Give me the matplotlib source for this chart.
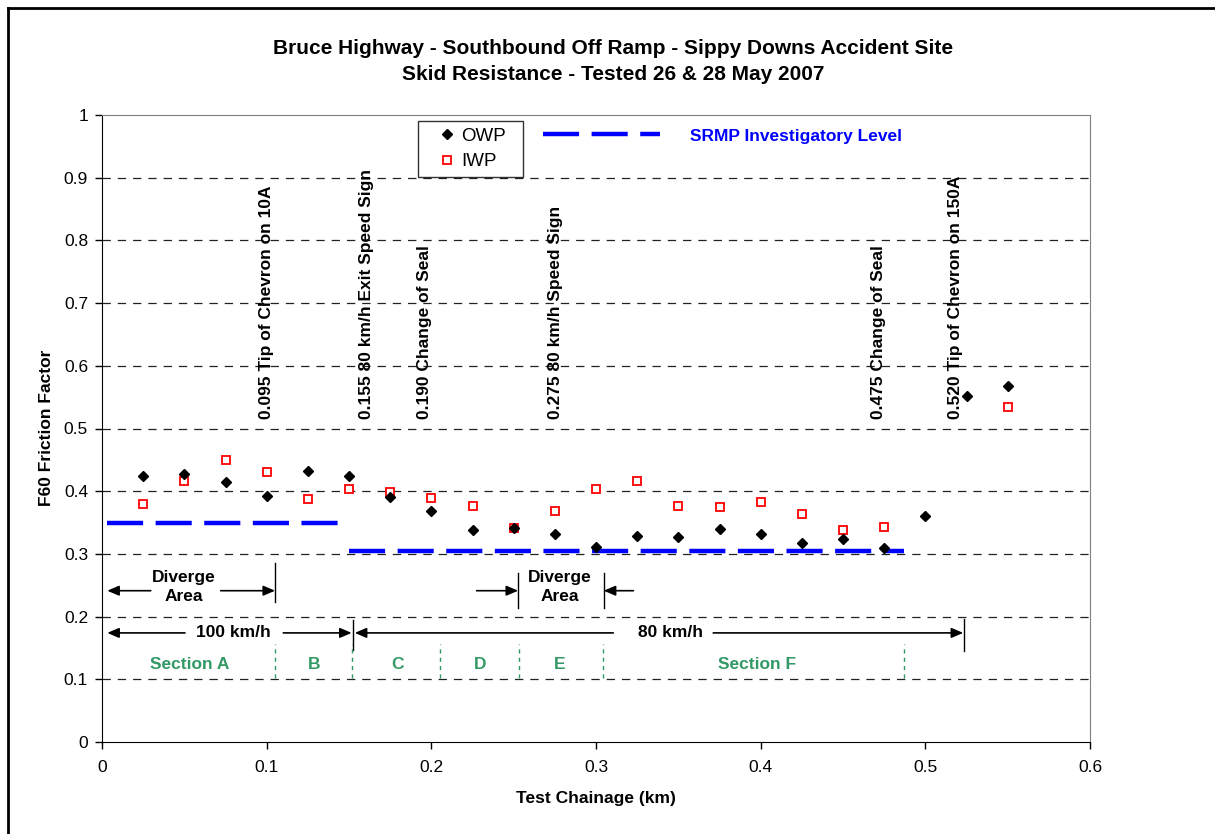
import numpy as np
import matplotlib
matplotlib.use("Agg")
import matplotlib.pyplot as plt
from matplotlib.ticker import FuncFormatter

plt.rcParams['font.family'] = ['Liberation Sans', 'DejaVu Sans']
plt.rcParams['lines.scale_dashes'] = False

# chainage (km) of each test point
chainage = [0.025, 0.05, 0.075, 0.1, 0.125, 0.15, 0.175, 0.2, 0.225, 0.25, 0.275, 0.3,
            0.325, 0.35, 0.375, 0.4, 0.425, 0.45, 0.475, 0.5, 0.525, 0.55]
owp = [0.424, 0.427, 0.415, 0.392, 0.433, 0.425, 0.391, 0.369, 0.338, 0.341, 0.332, 0.311,
       0.329, 0.327, 0.339, 0.332, 0.317, 0.324, 0.310, 0.360, 0.552, 0.568]
iwp = [0.379, 0.416, 0.449, 0.430, 0.387, 0.404, 0.399, 0.389, 0.377, 0.341, 0.368, 0.404,
       0.416, 0.377, 0.375, 0.382, 0.363, 0.338, 0.343, np.nan, np.nan, 0.534]

# SRMP investigatory level
srmp_x = [[0.003, 0.15], [0.15, 0.487]]
srmp_y = [0.35, 0.305]

# events along the ramp
event_labels = ['0.095 Tip of Chevron on 10A', '0.155 80 km/h Exit Speed Sign',
                '0.190 Change of Seal', '0.275 80 km/h Speed Sign',
                '0.475 Change of Seal', '0.520 Tip of Chevron on 150A']
event_pos = [0.0996, 0.1607, 0.196, 0.2757, 0.4714, 0.5184]

# sections
section_bounds = [0.105, 0.152, 0.205, 0.253, 0.304, 0.487]
section_names = ['Section A', 'B', 'C', 'D', 'E', 'Section F']
section_centres = [0.0535, 0.129, 0.1796, 0.2296, 0.278, 0.398]

green = '#339966'
fs = 12.5

fig = plt.figure(figsize=(12.15, 8.34), dpi=100)
ax = fig.add_axes([102/1215, 92/834, 988/1215, 627/834])

ax.set_xlim(0, 0.6)
ax.set_ylim(0, 1)
ax.set_xticks(np.arange(0, 0.61, 0.1))
ax.set_yticks(np.arange(0, 1.01, 0.1))
fmt = FuncFormatter(lambda v, p: f'{round(v, 2):g}')
ax.xaxis.set_major_formatter(fmt)
ax.yaxis.set_major_formatter(fmt)
ax.tick_params(labelsize=fs, length=5, direction='out', width=1)
ax.tick_params(axis='x', pad=8)
ax.tick_params(axis='y', pad=5)
for v in np.arange(0.1, 0.95, 0.1):
    ax.axhline(v, color='#222222', lw=0.9, dashes=(6, 5), zorder=0)
ax.spines['top'].set_color('#808080')
ax.spines['right'].set_color('#808080')

# data
for xs, y in zip(srmp_x, srmp_y):
    ax.plot(xs, [y, y], color='#0000ff', lw=3.2, dashes=(26, 9), solid_capstyle='butt', zorder=2)
ax.plot(chainage, iwp, 's', ms=5.8, mfc='white', mec='red', mew=1.3, ls='none', label='IWP', zorder=3)
ax.plot(chainage, owp, 'D', ms=5.3, color='black', ls='none', label='OWP', zorder=4)

h, l = ax.get_legend_handles_labels()
leg = ax.legend(h[::-1], l[::-1], loc='upper left', mode='expand',
                bbox_to_anchor=(316/988, 621/627, 105/988, 0), borderaxespad=0,
                fontsize=13.5, frameon=True, fancybox=False, edgecolor='black',
                handlelength=2.4, handletextpad=-0.45, borderpad=0.35, labelspacing=0.45)
leg.get_frame().set_linewidth(1)

# SRMP key
ax.plot([0.4464, 0.5648], [0.969, 0.969], transform=ax.transAxes, color='#0000ff',
        lw=3.2, dashes=(26, 9), solid_capstyle='butt')
ax.text(0.595, 0.965, 'SRMP Investigatory Level', transform=ax.transAxes, color='#0000ff',
        fontsize=fs, fontweight='bold', va='center', ha='left')

# events
for x, t in zip(event_pos, event_labels):
    ax.text(x, 0.515, t, rotation=90, ha='center', va='bottom', fontsize=fs, fontweight='bold')

arrow = dict(arrowstyle='-|>,head_length=0.7,head_width=0.3', color='black', lw=1.2,
             shrinkA=0, shrinkB=0)

def arr(x0, x1, y):
    ax.annotate('', xy=(x1, y), xytext=(x0, y), arrowprops=arrow)

# diverge areas
ax.text(0.0498, 0.247, 'Diverge\nArea', ha='center', va='center', fontsize=fs,
        fontweight='bold', linespacing=1.3)
arr(0.0296, 0.0032, 0.2413)
arr(0.0721, 0.1051, 0.2413)
ax.plot([0.1051, 0.1051], [0.224, 0.285], color='black', lw=1)

ax.text(0.278, 0.247, 'Diverge\nArea', ha='center', va='center', fontsize=fs,
        fontweight='bold', linespacing=1.3)
arr(0.2275, 0.2527, 0.2413)
arr(0.3227, 0.3047, 0.2413)
ax.plot([0.2527, 0.2527], [0.213, 0.269], color='black', lw=1)
ax.plot([0.3047, 0.3047], [0.213, 0.269], color='black', lw=1)

# speed zones
ax.text(0.0798, 0.174, '100 km/h', ha='center', va='center', fontsize=fs, fontweight='bold')
arr(0.0504, 0.0032, 0.174)
arr(0.1101, 0.1516, 0.174)
ax.plot([0.1522, 0.1522], [0.147, 0.195], color='black', lw=1)
ax.text(0.345, 0.174, '80 km/h', ha='center', va='center', fontsize=fs, fontweight='bold')
arr(0.3105, 0.1535, 0.174)
arr(0.3712, 0.523, 0.174)
ax.plot([0.5237, 0.5237], [0.145, 0.196], color='black', lw=1)

# sections
for b in section_bounds:
    ax.plot([b, b], [0.102, 0.156], color=green, lw=1, dashes=(3, 3))
for x, n in zip(section_centres, section_names):
    ax.text(x, 0.1244, n, ha='center', va='center', color=green, fontsize=fs, fontweight='bold')

fig.text(0.4905, 1 - 798/834, 'Test Chainage (km)', ha='center', va='center',
         fontsize=fs, fontweight='bold')
fig.text(47/1215, 1 - 428/834, 'F60 Friction Factor', ha='center', va='center',
         rotation=90, fontsize=fs, fontweight='bold')
fig.text(0.5045, 1 - 48/834, 'Bruce Highway - Southbound Off Ramp - Sippy Downs Accident Site',
         ha='center', va='center', fontsize=15, fontweight='bold')
fig.text(0.5045, 1 - 75/834, 'Skid Resistance - Tested 26 & 28 May 2007',
         ha='center', va='center', fontsize=15, fontweight='bold')

# chart area border (left and top edges)
fig.add_artist(plt.Line2D([8/1215, 8/1215], [0, 1 - 8/834], color='black', lw=2,
                          transform=fig.transFigure))
fig.add_artist(plt.Line2D([8/1215, 1], [1 - 8/834, 1 - 8/834], color='black', lw=2,
                          transform=fig.transFigure))

fig.savefig('out.png', dpi=100)
